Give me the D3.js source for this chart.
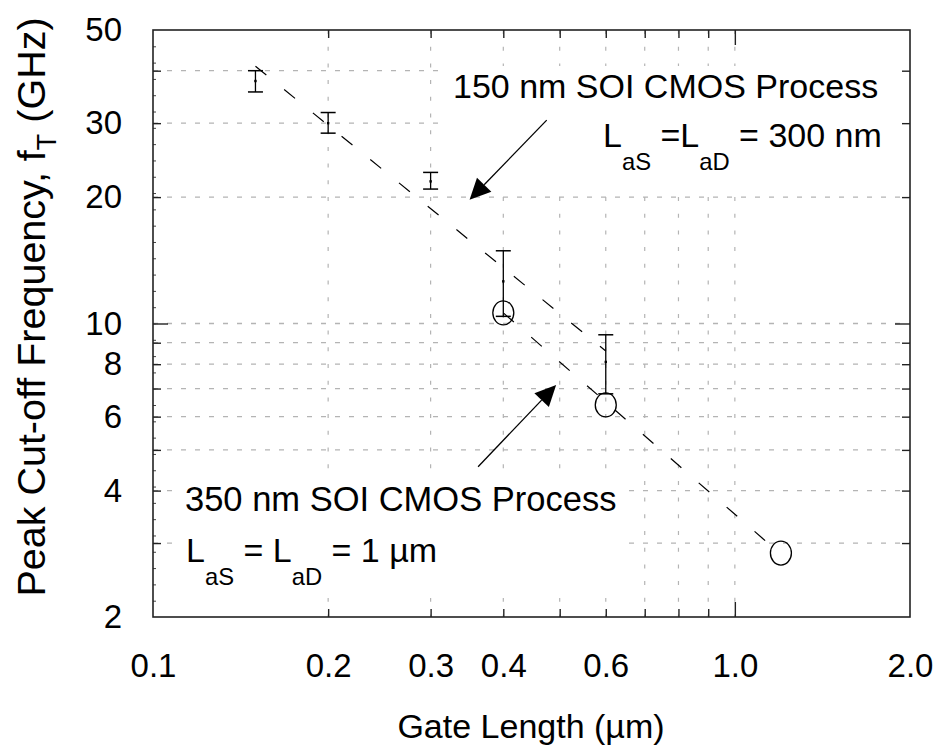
<!DOCTYPE html>
<html><head><meta charset="utf-8">
<script src="https://cdn.jsdelivr.net/npm/d3@7"></script>
<style>
body{margin:0;background:#fff}
text{font-family:"Liberation Sans",Arial,Helvetica,sans-serif;fill:#000;white-space:pre}
</style>
</head><body><svg id="c" width="935" height="756"></svg>
<script>
// ---- data ----
const gateLength150 = [0.15, 0.2, 0.3, 0.4, 0.6];
const ft150Mean = [37.8, 30.0, 21.8, 12.6, 8.1];
const ft150High = [40.0, 31.8, 22.9, 14.9, 9.4];
const ft150Low  = [35.6, 28.4, 20.9, 10.4, 6.8];
const gateLength350 = [0.4, 0.6, 1.2];
const ft350 = [10.6, 6.4, 2.84];
const fit150X = [0.15, 0.6],  fit150Y = [41, 8.6];
const fit350X = [0.4, 1.14],  fit350Y = [10.6, 3.0];
const xGridTicks  = [0.2, 0.3, 0.4, 0.5, 0.6, 0.7, 0.8, 0.9, 1.0];
const xTickLabels = [0.1, 0.2, 0.3, 0.4, 0.6, 1.0, 2.0];
const yGridTicks  = [3, 4, 5, 6, 7, 8, 9, 10, 20, 30, 40];
const yTickLabels = [2, 4, 6, 8, 10, 20, 30, 50];
// arrows in data coords: [x0,y0,x1(tip),y1(tip)]
const arrow150 = [0.475, 30.5, 0.35, 19.7];
const arrow350 = [0.362, 4.56, 0.493, 7.14];

// ---- layout ----
const L = 153, R = 910, T = 30, B = 617;
const svg = d3.select("#c");
svg.append("rect").attr("width", 935).attr("height", 756).attr("fill", "#fff");
const x = d3.scaleLog().domain([0.1, 2]).range([L, R]);
const y = d3.scaleLog().domain([2, 50]).range([B, T]);

// grid
const grid = svg.append("g");
grid.selectAll("line.h").data(yGridTicks).join("line")
  .attr("x1", L).attr("x2", R).attr("y1", d => y(d)).attr("y2", d => y(d))
  .attr("stroke", "#b4b4b4").attr("stroke-width", 1.3).attr("stroke-dasharray", "5,9");
grid.selectAll("line.v").data(xGridTicks).join("line")
  .attr("x1", d => x(d)).attr("x2", d => x(d)).attr("y1", T).attr("y2", B)
  .attr("stroke", "#b4b4b4").attr("stroke-width", 1.2).attr("stroke-dasharray", "4,12.7");

// white label boxes
svg.append("rect").attr("x", 447).attr("y", 66).attr("width", R - 447).attr("height", 126).attr("fill", "#fff");
svg.append("rect").attr("x", 172).attr("y", 475).attr("width", 455).attr("height", 123).attr("fill", "#fff");

// axes ticks
function styleTicks(g) {
  g.select(".domain").remove();
  g.selectAll(".tick line").attr("stroke", "#222").attr("stroke-width", 1.4);
}
const gB = svg.append("g").attr("transform", `translate(0,${B})`)
  .call(d3.axisBottom(x).tickValues(xGridTicks).tickSizeInner(-8).tickSizeOuter(0).tickFormat(""));
const gTop = svg.append("g").attr("transform", `translate(0,${T})`)
  .call(d3.axisTop(x).tickValues(xGridTicks).tickSizeInner(-8).tickSizeOuter(0).tickFormat(""));
const gL = svg.append("g").attr("transform", `translate(${L},0)`)
  .call(d3.axisLeft(y).tickValues(yGridTicks).tickSizeInner(-8).tickSizeOuter(0).tickFormat(""));
const gR = svg.append("g").attr("transform", `translate(${R},0)`)
  .call(d3.axisRight(y).tickValues(yGridTicks).tickSizeInner(-8).tickSizeOuter(0).tickFormat(""));
[gB, gTop, gL, gR].forEach(g => styleTicks(g));
gB.selectAll(".tick line").filter(d => d === 1).attr("y2", -15);
gTop.selectAll(".tick line").filter(d => d === 1).attr("y2", 15);
gL.selectAll(".tick line").filter(d => d === 10).attr("x2", 15);
gR.selectAll(".tick line").filter(d => d === 10).attr("x2", -15);

// minor ticks on left axis (evenly spaced along the axis)
const minorY = d3.range(1, 36).map(i => y.invert(T + i * (B - T) / 36));
const gLm = svg.append("g").attr("transform", `translate(${L},0)`)
  .call(d3.axisLeft(y).tickValues(minorY).tickSizeInner(-3).tickSizeOuter(0).tickFormat(""));
gLm.select(".domain").remove();
gLm.selectAll(".tick line").attr("stroke", "#444").attr("stroke-width", 1);

// tick labels
const gBl = svg.append("g").attr("transform", `translate(0,${B})`)
  .call(d3.axisBottom(x).tickValues(xTickLabels).tickSize(0).tickPadding(37).tickFormat(d3.format(".1f")));
gBl.select(".domain").remove();
gBl.selectAll("text").attr("font-size", 33).attr("font-family", null);
const gLl = svg.append("g").attr("transform", `translate(${L},0)`)
  .call(d3.axisLeft(y).tickValues(yTickLabels).tickSize(0).tickPadding(31).tickFormat(d3.format("d")));
gLl.select(".domain").remove();
gLl.selectAll("text").attr("font-size", 33).attr("font-family", null);

// frame
svg.append("rect").attr("x", L).attr("y", T).attr("width", R - L).attr("height", B - T)
  .attr("fill", "none").attr("stroke", "#222").attr("stroke-width", 1.6);

// fit lines
const line = d3.line().x(d => x(d[0])).y(d => y(d[1]));
svg.append("path").datum(d3.zip(fit150X, fit150Y)).attr("d", line)
  .attr("fill", "none").attr("stroke", "#000").attr("stroke-width", 1.2).attr("stroke-dasharray", "14,23");
svg.append("path").datum(d3.zip(fit350X, fit350Y)).attr("d", line)
  .attr("fill", "none").attr("stroke", "#000").attr("stroke-width", 1.2).attr("stroke-dasharray", "14,23");

// error bars (150 nm)
const eb = svg.append("g").selectAll("g").data(d3.range(gateLength150.length)).join("g");
eb.append("line").attr("x1", i => x(gateLength150[i])).attr("x2", i => x(gateLength150[i]))
  .attr("y1", i => y(ft150High[i])).attr("y2", i => y(ft150Low[i])).attr("stroke", "#000").attr("stroke-width", 1.3);
eb.append("line").attr("x1", i => x(gateLength150[i]) - 7.5).attr("x2", i => x(gateLength150[i]) + 7.5)
  .attr("y1", i => y(ft150High[i])).attr("y2", i => y(ft150High[i])).attr("stroke", "#000").attr("stroke-width", 1.5);
eb.append("line").attr("x1", i => x(gateLength150[i]) - 7.5).attr("x2", i => x(gateLength150[i]) + 7.5)
  .attr("y1", i => y(ft150Low[i])).attr("y2", i => y(ft150Low[i])).attr("stroke", "#000").attr("stroke-width", 1.5);
eb.append("rect").attr("x", i => x(gateLength150[i]) - 1.2).attr("y", i => y(ft150Mean[i]) - 1.2)
  .attr("width", 2.4).attr("height", 2.4).attr("fill", "#000");

// circles (350 nm)
svg.append("g").selectAll("ellipse").data(d3.range(gateLength350.length)).join("ellipse")
  .attr("cx", i => x(gateLength350[i])).attr("cy", i => y(ft350[i]))
  .attr("rx", 10.5).attr("ry", 12).attr("fill", "none").attr("stroke", "#000").attr("stroke-width", 1.3);

// arrows
function arrow(a) {
  const x0 = x(a[0]), y0 = y(a[1]), x1 = x(a[2]), y1 = y(a[3]);
  const dx = x1 - x0, dy = y1 - y0, len = Math.hypot(dx, dy), ux = dx / len, uy = dy / len;
  const hl = 21, hw = 10;
  const bx = x1 - ux * hl, by = y1 - uy * hl;
  svg.append("line").attr("x1", x0).attr("y1", y0).attr("x2", bx).attr("y2", by)
    .attr("stroke", "#000").attr("stroke-width", 1.3);
  svg.append("polygon").attr("points",
    `${x1},${y1} ${bx - uy * hw},${by + ux * hw} ${bx + uy * hw},${by - ux * hw}`).attr("fill", "#000");
}
arrow(arrow150);
arrow(arrow350);

// annotation texts
function subText(xp, yp, parts, size) {
  const t = svg.append("text").attr("x", xp).attr("y", yp).attr("font-size", size);
  let shifted = false;
  parts.forEach(p => {
    const ts = t.append("tspan").text(p.t);
    if (p.sub) { ts.attr("font-size", size * 0.7).attr("dy", size * 0.68); shifted = true; }
    else if (shifted) { ts.attr("dy", -size * 0.68); shifted = false; }
  });
  return t;
}
svg.append("text").attr("x", 453).attr("y", 98).attr("font-size", 34).text("150 nm SOI CMOS Process");
subText(603, 147, [{t: "L"}, {t: "aS", sub: true}, {t: " =L"}, {t: "aD", sub: true}, {t: " = 300 nm"}], 34);
svg.append("text").attr("x", 185).attr("y", 511).attr("font-size", 34.5).text("350 nm SOI CMOS Process");
subText(186, 562, [{t: "L"}, {t: "aS", sub: true}, {t: " = L"}, {t: "aD", sub: true}, {t: " = 1 µm"}], 34);

// axis titles
svg.append("text").attr("x", 531).attr("y", 738).attr("text-anchor", "middle").attr("font-size", 34)
  .text("Gate Length (µm)");
const yt = svg.append("text").attr("transform", "translate(45,307) rotate(-90)")
  .attr("text-anchor", "middle").attr("font-size", 39.5);
yt.append("tspan").text("Peak Cut-off Frequency, f");
yt.append("tspan").attr("font-size", 27).attr("dy", 11).text("T");
yt.append("tspan").attr("dy", -11).text(" (GHz)");
</script>
</body></html>
